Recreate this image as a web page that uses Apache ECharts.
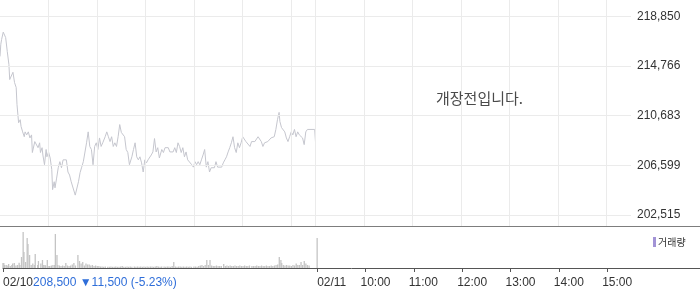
<!DOCTYPE html>
<html><head><meta charset="utf-8">
<script src="https://cdn.jsdelivr.net/npm/echarts@6/dist/echarts.min.js"></script>
<style>html,body{margin:0;padding:0;background:#fff}#c{width:700px;height:289px}</style>
</head><body><div id="c"></div>
<script>
// minutes after 09:00 on 02/10 (day 2 starts at 390)
const times = [
  0,1,2,4,6,7,9,11,12,14,
  16,18,20,21,23,25,26,28,30,31,
  33,35,37,39,40,43,44,47,49,50,
  52,53,55,57,58,60,62,64,65,67,
  68,70,72,74,76,78,80,82,84,86,
  88,90,93,95,97,99,101,103,105,107,
  109,111,113,115,117,119,121,123,125,127,
  130,132,134,136,138,140,142,144,146,148,
  150,152,154,156,158,160,163,165,167,169,
  171,173,175,177,179,181,183,185,187,189,
  191,193,195,197,200,202,204,206,208,210,
  212,214,216,218,220,222,224,226,228,230,
  232,234,237,239,241,243,245,247,249,251,
  253,255,257,259,261,263,265,267,269,271,
  274,276,278,280,282,284,286,288,290,292,
  294,296,298,300,302,304,306,309,311,313,
  315,317,319,321,323,325,327,329,331,333,
  335,337,339,341,343,345,346,348,350,352,
  354,356,358,360,362,364,366,368,370,372,
  374,376,378,380,389,390
];
const prices = [
  215550,216550,216950,217550,217600,217100,215950,214900,213650,213500,
  214250,213400,213000,211600,210100,210350,209800,209350,208950,209350,
  209100,209350,208850,209100,207650,208550,208700,208050,208450,207650,
  208050,207450,206650,207900,207300,207700,207200,206250,204600,205250,
  204750,205550,206400,206900,206400,207050,206900,207050,206050,205800,
  205250,205250,204150,204000,205250,206000,206450,206900,207050,208450,
  209350,208150,207900,206650,208150,208450,207900,208850,208150,208450,
  208950,209350,208950,208550,208950,208150,208450,208150,208950,209950,
  209300,209350,208950,207900,207650,206650,207300,207900,208450,207300,
  207050,207300,206800,206050,207050,206800,207050,207200,207450,207700,
  208800,207700,208050,207200,207900,207650,208050,207900,208050,207700,
  207650,207700,208050,207650,208450,208150,207650,208050,207300,207700,
  207050,206900,206650,206450,206900,206650,206900,206650,207050,207450,
  207900,206450,206900,206050,206400,206250,206400,206900,206450,206450,
  206450,206800,207050,207300,207700,208050,208450,208950,208050,207650,
  208450,208050,208450,208950,208950,208550,208450,208150,208550,208550,
  208550,208550,208950,208850,208550,208150,208450,208550,208550,208550,
  208850,208950,208950,209550,210350,210950,210200,209700,209800,209350,
  208850,208550,208950,209350,209100,209550,208950,209350,209100,208950,
  208850,208300,209350,209550,209550,208500
];
// volume (thousand shares, estimated)
const volumes = [
  5,5,3,3,2.5,4,2,3,4.5,5,
  2.5,3,5.3,3,11,36,16,6,30,24,
  13,3,4.5,3,14,3,7,4.5,8,3,
  3,2.5,8,2,2,2.5,3,3,34,13,
  3,2.5,2,2.5,2,5,2.5,2,2.5,3.5,
  5,2.5,13,7,4.5,6,2.5,4.5,3.5,3.5,
  2.5,3,2,2.5,2,2,1.5,1.5,1.2,1.5,
  1.2,1.2,1.5,1.2,1.2,1.5,1.2,1.2,1.5,2,
  1.2,1.2,1.5,1.2,1.5,1.2,1.5,1.2,1.5,1.2,
  1.5,1.2,1.5,1.2,1.5,1.2,1.5,1.5,1.2,1.5,
  2,1.5,1.2,1.5,1.5,1.2,1.5,1.5,1.2,2,
  6,1.5,1.2,1.5,1.5,1.2,1.5,1.2,1.5,1.2,
  1.5,1.2,1.5,1.5,1.2,2,2.5,3,2,3,
  8,3,8,2.5,2,2,2.5,2,2,2,
  4,2,2.5,2,2.5,2,2,2.5,2,2,
  2.5,2,2,2.5,2,2,2.5,2,2,2,
  2.5,2,2,2.5,2,2,2.5,2,2,2.5,
  2,2.5,3,3.5,11,8,5,3,2.5,3,
  2.5,2.5,2,3,2.5,4.5,3,3,6,3,
  7,4.5,3,2.5,0,30
];
const priceTicks = [202515, 206599, 210683, 214766, 218850];
const hourLines = [60,120,180,240,300,360,390,450,510,570,630,690,750];
const axisTicks = [0,390,450,510,570,630,690,750];
const dateTicks = [0, 390];
const dateLabels = ['02/10', '02/11'];
const timeTicks = [450,510,570,630,690,750];
const timeLabels = ['10:00','11:00','12:00','13:00','14:00','15:00'];
const lastPriceText = '208,500 ▼11,500 (-5.23%)';
const noticeText = '개장전입니다.';
const volumeName = '거래량';

const FONT = 'Liberation Sans, Arial, sans-serif';
const chart = echarts.init(document.getElementById('c'));
const pxPerMin = 631 / 780;
const volMax = 700 / pxPerMin;
const shift = 5 / pxPerMin;

chart.setOption({
  animation: false,
  backgroundColor: '#fff',
  grid: [
    {left: 0, right: 69, top: 0, height: 226},
    {left: 0, right: 0, top: 227, height: 41}
  ],
  legend: {
    data: [{name: volumeName, itemStyle: {color: '#a293d6'}}],
    icon: 'rect', itemWidth: 3, itemHeight: 10,
    left: 648, top: 232, selectedMode: false,
    textStyle: {fontSize: 10, color: '#333', fontFamily: 'Noto Sans CJK KR', padding: [0, 0, 0, -3]}
  },
  xAxis: [
    {gridIndex: 0, type: 'value', min: 0, max: 780, show: false},
    {gridIndex: 1, type: 'value', min: 0, max: volMax, position: 'bottom',
      axisLine: {lineStyle: {color: '#555', width: 1}},
      axisTick: {show: true, customValues: axisTicks, length: 4, lineStyle: {color: '#555'}},
      splitLine: {show: false},
      axisLabel: {
        customValues: dateTicks, align: 'left', margin: 9,
        fontSize: 12, color: '#333', fontFamily: FONT,
        formatter: v => {
          const i = dateTicks.indexOf(v);
          return i === 0 ? '{d|' + dateLabels[0] + '}{b|' + lastPriceText + '}' : '{d|' + dateLabels[i] + '}';
        },
        rich: {
          d: {fontSize: 12, color: '#333', fontFamily: FONT},
          b: {fontSize: 12, color: '#2f6ed9', fontFamily: FONT}
        }
      }
    },
    {gridIndex: 1, type: 'value', min: shift, max: volMax + shift, position: 'bottom',
      axisLine: {show: false}, axisTick: {show: false}, splitLine: {show: false},
      axisLabel: {
        customValues: timeTicks, align: 'left', margin: 9,
        fontSize: 12, color: '#333', fontFamily: FONT,
        formatter: v => timeLabels[timeTicks.indexOf(v)]
      }
    }
  ],
  yAxis: [
    {gridIndex: 0, type: 'value', position: 'right', min: 201611, max: 220190,
      axisLine: {show: false}, axisTick: {show: false}, splitLine: {show: false},
      axisLabel: {
        customValues: priceTicks, margin: 6, fontSize: 12, color: '#333', fontFamily: FONT,
        formatter: v => v.toLocaleString('en-US')
      }
    },
    {gridIndex: 1, type: 'value', min: 0, max: 41, show: false}
  ],
  graphic: [
    {type: 'line', shape: {x1: 0, y1: 226.5, x2: 700, y2: 226.5},
      style: {stroke: '#7d7d7d', lineWidth: 1}, z: 10},
    {type: 'text', left: 436, top: 91,
      style: {text: noticeText, fontSize: 15, fill: '#4a4a4a', fontFamily: 'Noto Sans CJK KR'}, z: 10}
  ],
  series: [
    {type: 'line', xAxisIndex: 0, yAxisIndex: 0, data: [], z: 1, silent: true,
      markLine: {
        silent: true, symbol: 'none', animation: false,
        label: {show: false},
        lineStyle: {color: '#ebebeb', type: 'solid', width: 1},
        data: hourLines.map(v => ({xAxis: v})).concat(priceTicks.map(v => ({yAxis: v})))
      }
    },
    {type: 'line', name: 'price', xAxisIndex: 0, yAxisIndex: 0, z: 3,
      data: times.map((t, i) => [t, prices[i]]),
      showSymbol: false, symbol: 'none',
      lineStyle: {color: '#c5c6ce', width: 1}
    },
    {type: 'bar', name: volumeName, xAxisIndex: 1, yAxisIndex: 1,
      data: times.map((t, i) => [t, volumes[i]]),
      barWidth: 1.3, itemStyle: {color: '#c4c4c4'}
    }
  ]
});
</script></body></html>
